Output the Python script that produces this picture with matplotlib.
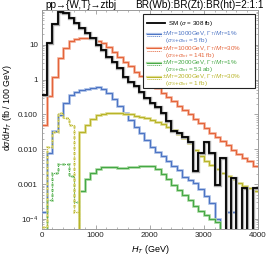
import numpy as np
import matplotlib
matplotlib.use("Agg")
import matplotlib.pyplot as plt
from matplotlib.patches import Rectangle
from matplotlib.ticker import LogLocator, MultipleLocator, NullFormatter

plt.rcParams['font.family'] = ['Liberation Sans', 'DejaVu Sans']
plt.rcParams['mathtext.fontset'] = 'custom'
plt.rcParams['mathtext.rm'] = 'Liberation Sans'
plt.rcParams['mathtext.it'] = 'Liberation Sans:italic'
plt.rcParams['mathtext.bf'] = 'Liberation Sans:bold'

# ---------------- data (fb / 100 GeV); negative = interference-dominated (drawn dotted, |value|)
ht_edges = list(range(0, 4001, 100))

sm = [0.37, 11, 39, 87, 82, 58, 42, 30, 21.7, 15.6,
      10, 7.2, 4.6, 3.3, 2.1, 1.23, 0.88, 0.64, 0.45, 0.30,
      0.21, 0.165, 0.11, 0.065, 0.034, 0.029, 0.023, 0.0167, 0.0023, 0.0078,
      0.0167, 0.0078, 0.00096, 0.0058, 0, 0.0015, 0, 0.00077, 0, 0.00077]

m1000_w1 = [0.00016, 0.008, 0.034, 0.098, 0.21, 0.37, 0.45, 0.5, 0.53, 0.57,
            0.6, 0.55, 0.42, 0.27, 0.17, 0.11, 0.07, 0.045, 0.029, 0.019,
            0.012, 0.0086, 0.0062, 0.0045, 0.0033, 0.0025, 0.0016, 0.0013, 0.0011, 0.0007,
            0.00045, 0.00028, 0.0001, 0, 0.00016, 0.00016, 0, 0, 0, 0]

m1000_w30 = [0.05, 0.35, 1.2, 4.1, 8, 13, 15, 16, 16, 15.5,
             13, 11.2, 8.9, 6.4, 4.6, 3.3, 2.4, 1.7, 1.3, 1.0,
             0.75, 0.56, 0.42, 0.32, 0.24, 0.18, 0.135, 0.1, 0.075, 0.056,
             0.04, 0.029, 0.022, 0.017, 0.013, 0.0098, 0.0075, 0.0058, 0.0045, 0.0034]

m2000_w1 = [0, -0.00036, -0.0021, -0.0039, -0.0038, -0.0017, -0.0003, 0.00062, 0.0014, 0.0021,
            0.0027, 0.0031, 0.003, 0.003, 0.0029, 0.0029, 0.003, 0.0031, 0.0032, 0.0034,
            0.0033, 0.0027, 0.002, 0.0014, 0.00096, 0.00068, 0.00049, 0.00035, 0.00024, 0.00017,
            0.00013, 0.0001, 0.00008, 0, 0, 0, 0, 0, 0, 0]

m2000_w30 = [-0.00006, -0.0115, -0.032, -0.113, -0.078, -0.05, -0.00016, 0.032, 0.05, 0.075,
             0.098, 0.105, 0.11, 0.112, 0.11, 0.105, 0.1, 0.092, 0.085, 0.078,
             0.07, 0.062, 0.053, 0.045, 0.036, 0.028, 0.021, 0.015, 0.0095, 0.0065,
             0.0047, 0.0035, 0.0027, 0.0021, 0.0017, 0.0014, 0.0011, 0.0009, 0.00075, 0.00065]

y_ticks = [10, 1, 0.1, 0.01, 0.001, 1e-4]
y_ticklabels = ["10", "1", "0.100", "0.010", "0.001", r"$10^{-4}$"]
x_ticks = [0, 1000, 2000, 3000, 4000]

legend_entries = [
    ("#000000", "#aaaaaa", [r"SM ($\sigma$ = 308 fb)"]),
    ("#4c74c4", "#a9bee6", [r"$M_T$=1000GeV, $\Gamma_T/M_T$=1%", r"($\sigma_S$+$\sigma_{int}$ = 5 fb)"]),
    ("#e4643a", "#f4b09a", [r"$M_T$=1000GeV, $\Gamma_T/M_T$=30%", r"($\sigma_S$+$\sigma_{int}$ = 141 fb)"]),
    ("#45a845", "#a8d8a0", [r"$M_T$=2000GeV, $\Gamma_T/M_T$=1%", r"($\sigma_S$+$\sigma_{int}$ = 53 ab)"]),
    ("#b8b428", "#e0dc90", [r"$M_T$=2000GeV, $\Gamma_T/M_T$=30%", r"($\sigma_S$+$\sigma_{int}$ = 1 fb)"]),
]

# ---------------- figure
W, H = 270, 259
L, R, T, B = 41.5, 258.0, 10.0, 228.5
fig = plt.figure(figsize=(W / 100, H / 100), dpi=100)
ax = fig.add_axes([L / W, 1 - B / H, (R - L) / W, (B - T) / H])
ax.set_yscale('log')
ax.set_xlim(0, 4000)
ax.set_ylim(5.3e-5, 100)

TINY = 1e-12
DOT = (0, (1.0, 1.0))


def draw(vals, color, light, lw, z):
    v = np.array(vals, float)
    pos = np.where(v > 0, v, TINY)
    neg = np.where(v < 0, -v, TINY)
    ax.stairs(pos, ht_edges, baseline=None, color=light, lw=lw + 1.1, zorder=z)
    ax.stairs(pos, ht_edges, baseline=None, color=color, lw=lw, zorder=z + 0.5)
    if (v < 0).any():
        ax.stairs(neg, ht_edges, baseline=None, color=light, lw=lw + 1.1, ls=DOT, zorder=z)
        ax.stairs(neg, ht_edges, baseline=None, color=color, lw=lw, ls=DOT, zorder=z + 0.5)


draw(m1000_w30, legend_entries[2][0], legend_entries[2][1], 0.8, 2)
draw(m1000_w1, legend_entries[1][0], legend_entries[1][1], 0.8, 3)
draw(m2000_w1, legend_entries[3][0], legend_entries[3][1], 0.8, 4)
draw(m2000_w30, legend_entries[4][0], legend_entries[4][1], 0.8, 5)
draw(sm, legend_entries[0][0], legend_entries[0][1], 1.3, 6)

# ---------------- axes styling
frame_col = '#9a9a9a'
for s in ax.spines.values():
    s.set_color(frame_col)
    s.set_linewidth(0.7)
ax.set_xticks(x_ticks)
ax.set_xticklabels([str(t) for t in x_ticks])
ax.xaxis.set_minor_locator(MultipleLocator(200))
ax.set_yticks(y_ticks)
ax.set_yticklabels(y_ticklabels)
ax.yaxis.set_minor_locator(LogLocator(base=10, subs=np.arange(2, 10), numticks=20))
ax.yaxis.set_minor_formatter(NullFormatter())
ax.tick_params(which='both', direction='in', color=frame_col, top=True, right=True,
               labelsize=5.8, labelcolor='#222222', pad=2.5)
ax.tick_params(which='major', length=3.0, width=0.6)
ax.tick_params(which='minor', length=1.6, width=0.5)

# ---------------- texts
fig.text(45 / W, 1 - 5.5 / H, "pp→{W,T}→ztbj", fontsize=7.2, ha='left', va='center',
         family=['Liberation Sans', 'DejaVu Sans'])
fig.text(264 / W, 1 - 5.5 / H, "BR(Wb):BR(Zt):BR(ht)=2:1:1", fontsize=7.2, ha='right', va='center')
fig.text(150 / W, 1 - 249 / H, r"$H_T$ (GeV)", fontsize=6.5, ha='center', va='center')
fig.text(7.5 / W, 1 - 108 / H, r"d$\sigma$/d$H_T$ (fb / 100 GeV)", fontsize=6.3,
         ha='center', va='center', rotation=90)

# ---------------- legend (drawn manually in pixel-mapped axes coordinates)
def P(x, y):
    return ((x - L) / (R - L), (B - y) / (B - T))

x0, y0 = P(143, 87.5)
x1, y1 = P(255, 14)
ax.add_patch(Rectangle((x0, y0), x1 - x0, y1 - y0, transform=ax.transAxes,
                       facecolor='white', edgecolor='#222222', lw=0.8, zorder=20))

rows = [23.3, 34.0, 48.3, 62.6, 76.9]
fs = 4.5
for (col, light, lines), yy in zip(legend_entries, rows):
    if len(lines) == 1:
        a, b = P(146.5, yy)
        c, _ = P(164.5, yy)
        ax.plot([a, c], [b, b], transform=ax.transAxes, color=col, lw=1.3, zorder=21)
        tx, ty = P(168, yy)
        ax.text(tx, ty, lines[0], transform=ax.transAxes, color=col, fontsize=fs,
                ha='left', va='center', zorder=22)
    else:
        a, b = P(146.5, yy)
        c, _ = P(160.5, yy)
        _, b2 = P(146.5, yy + 2.2)
        ax.plot([a, c], [b, b], transform=ax.transAxes, color=light, lw=1.6, zorder=21)
        ax.plot([a, c], [b, b], transform=ax.transAxes, color=col, lw=0.7, zorder=21)
        ax.plot([a, c], [b2, b2], transform=ax.transAxes, color=col, lw=0.7, ls=DOT, zorder=21)
        tx, ty = P(161.5, yy + 3.4)
        ax.text(tx, ty, "±" + lines[0] + "\n  " + lines[1], transform=ax.transAxes,
                color=col, fontsize=fs, ha='left', va='center', linespacing=0.66, zorder=22)

fig.savefig("out.png", dpi=100)
